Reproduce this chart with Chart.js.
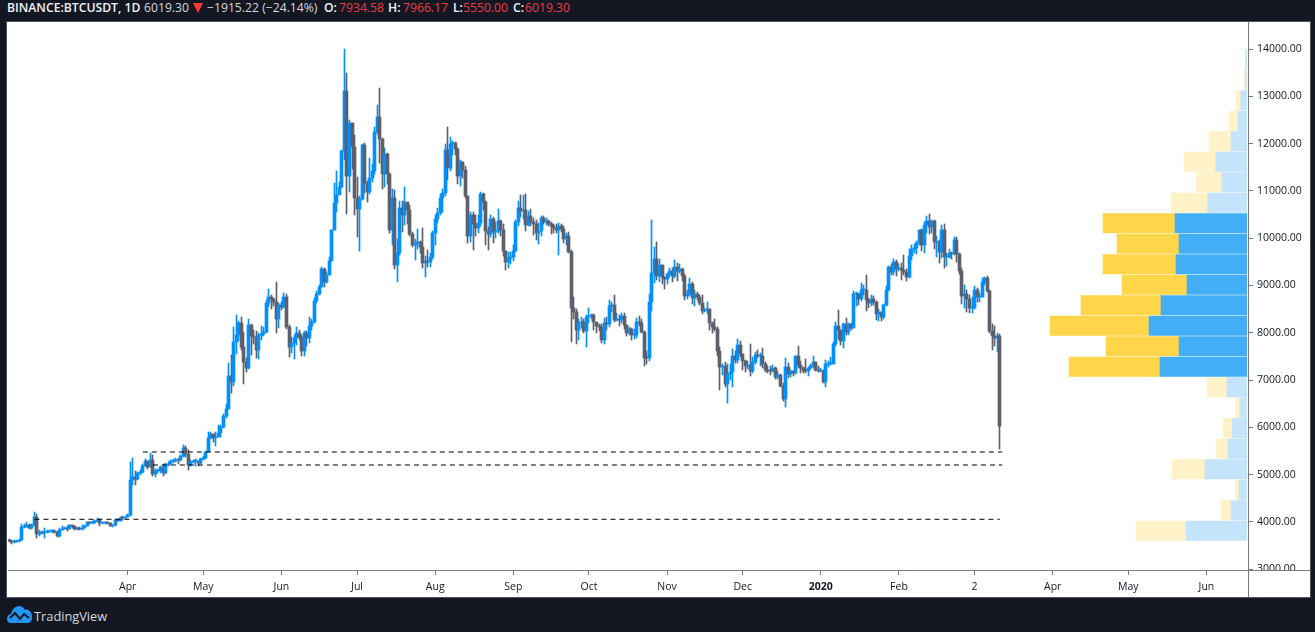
<!DOCTYPE html>
<html>
<head>
<meta charset="utf-8">
<script src="https://cdn.jsdelivr.net/npm/chart.js@4"></script>
<style>
  html, body { margin: 0; padding: 0; background: #131722; overflow: hidden; }
  body { width: 1315px; height: 632px; position: relative; font-family: "Open Sans", sans-serif; }
  #Chart { position: absolute; left: 7px; top: 22px; background: #fff; box-shadow: 0 0 0 1px #50535e; }
  #Profile { position: absolute; left: 1040px; top: 22px; }
  .hd { position: absolute; top: 0; font-size: 12.2px; line-height: 16px; color: #d6d8df; white-space: nowrap; }
  .hd.b { font-weight: 600; color: #f0f3fa; }
  .hd.r { color: #ee3a43; }
  #tri { position: absolute; left: 193px; top: 3px; border-left: 5px solid transparent; border-right: 5px solid transparent; border-top: 10px solid #ff3b30; }
  #logoText { position: absolute; left: 34px; top: 607px; font-size: 12.8px; line-height: 18px; color: #d6d8df; }
  #logo { position: absolute; left: 6px; top: 604px; }
</style>
</head>
<body>
<span class="hd b" style="left:7px">BINANCE:BTCUSDT, 1D</span>
<span class="hd" style="left:144px">6019.30</span>
<div id="tri"></div>
<span class="hd" style="left:207px">−1915.22 (−24.14%)</span>
<span class="hd b" style="left:324px">O:</span><span class="hd r" style="left:339px">7934.58</span>
<span class="hd b" style="left:388px">H:</span><span class="hd r" style="left:403px">7966.17</span>
<span class="hd b" style="left:453px">L:</span><span class="hd r" style="left:463px">5550.00</span>
<span class="hd b" style="left:513px">C:</span><span class="hd r" style="left:525px">6019.30</span>

<canvas id="Chart" width="1303" height="575"></canvas>
<canvas id="Profile" width="207" height="548"></canvas>

<svg id="logo" width="27" height="20" viewBox="0 0 27 20">
  <path d="M1 15c0-3 2-5 4-5 1-4 4-8 8-8 3 0 5 2 6 4 1-1 2-1 3 0 3 1 4 4 4 7 0 4-2 6-5 6H5c-3 0-4-2-4-4z" fill="#2196f3"/>
  <path d="M4 14l5-5 5 6 4-5 5 4" fill="none" stroke="#131722" stroke-width="2"/>
</svg>
<span id="logoText">TradingView</span>

<script>
// daily candles, 13 Feb 2019 - 12 Mar 2020
const opens = [
  3610,3590,3570,3575,3590,3620,3890,3900,3940,3880,3940,4115,3740,3790,3770,3780,
  3790,3810,3810,3790,3700,3840,3860,3870,3860,3930,3910,3860,3875,3860,3870,3915,4000,3975,3985,4020,4040,3985,3985,3990,3970,3925,3935,4040,4025,4090,4085,
  4105,4140,4880,4960,4900,5040,5050,5190,5290,5170,5320,5020,5070,5080,5170,5030,5215,5235,5285,5285,5320,5310,5395,5560,5430,5210,5270,5285,5285,5250,
  5330,5350,5470,5770,5860,5770,5805,5875,6015,6242,6383,7087,6968,7799,7954,8200,7707,7377,7263,8165,7933,7918,7637,7954,7975,8025,8623,8764,8725,8660,8285,
  8588,8552,8750,8116,7707,7790,7884,8003,7918,7616,8003,7884,8150,8230,8680,8814,8976,9350,9080,9230,9518,10174,10750,10914,11076,11844,13112,11315,12429,11921,
  10857,10618,10832,11971,11160,10984,11266,11414,12253,12556,12105,11350,11780,11358,10174,10843,9434,9680,10632,10491,10766,10597,10089,9857,9892,9920,9822,9483,9525,9505,9596,
  10104,10400,10540,10843,10949,11865,11492,11985,12006,11887,11322,11604,11442,10900,10054,10491,10300,10223,10330,10935,10773,10160,10089,10406,10138,10150,10370,10170,9736,9504,9580,
  9600,9729,10350,10632,10580,10596,10279,10460,10350,10300,10100,10160,10434,10350,10355,10300,10260,10225,10180,10258,10200,9983,10047,9715,8517,8447,8060,8200,8225,8045,
  8327,8355,8376,8235,8144,8130,7848,8200,8180,8567,8590,8270,8300,8280,8350,8160,7990,8070,7950,7950,8230,8210,8020,7470,7460,8660,9260,9550,9210,9430,9170,
  9140,9240,9310,9200,9390,9310,9340,9210,8770,8810,9030,8730,8810,8760,8640,8460,8490,8500,8200,8120,8080,7620,7280,7300,6920,7130,7165,7510,7420,7750,
  7550,7400,7290,7310,7190,7390,7530,7500,7520,7340,7220,7200,7190,7250,7070,7110,6880,6610,7280,7130,7190,7140,7510,7310,7250,7200,7190,7250,7300,7380,7220,
  7195,7200,6970,7340,7350,7350,7760,8150,8050,7820,8190,8020,8180,8110,8820,8820,8720,8900,8900,8700,8630,8720,8660,8390,8430,8330,8590,8900,9390,9290,9500,
  9350,9380,9330,9290,9180,9620,9770,9800,9905,10170,9860,10270,10360,10240,10370,9910,9930,9700,10180,9610,9610,9690,9660,9960,9660,9310,8780,8810,8710,
  8530,8530,8910,8760,8760,9070,9150,8890,8040,7930,7890,7934.58
];
const closes = [
  3590,3570,3575,3590,3620,3890,3900,3940,3880,3940,4115,3740,3790,3770,3780,3790,
  3810,3810,3790,3700,3840,3860,3870,3860,3930,3910,3860,3875,3860,3870,3915,4000,3975,3985,4020,4040,3985,3985,3990,3970,3925,3935,4040,4025,4090,4085,4105,
  4140,4880,4960,4900,5040,5050,5190,5290,5170,5320,5020,5070,5080,5170,5030,5215,5235,5285,5285,5320,5310,5395,5560,5430,5210,5270,5285,5285,5250,5330,
  5350,5470,5770,5860,5770,5805,5875,6015,6242,6383,7087,6968,7799,7954,8200,7707,7377,7263,8165,7933,7918,7637,7954,7975,8025,8623,8764,8725,8660,8285,8588,
  8552,8750,8116,7707,7790,7884,8003,7918,7616,8003,7884,8150,8230,8680,8814,8976,9350,9080,9230,9518,10174,10750,10914,11076,11844,13112,11315,12429,11921,10857,
  10618,10832,11971,11160,10984,11266,11414,12253,12556,12105,11350,11780,11358,10174,10843,9434,9680,10632,10491,10766,10597,10089,9857,9892,9920,9822,9483,9525,9505,9596,10104,
  10400,10540,10843,10949,11865,11492,11985,12006,11887,11322,11604,11442,10900,10054,10491,10300,10223,10330,10935,10773,10160,10089,10406,10138,10150,10370,10170,9736,9504,9580,9600,
  9729,10350,10632,10580,10596,10279,10460,10350,10300,10100,10160,10434,10350,10355,10300,10260,10225,10180,10258,10200,9983,10047,9715,8517,8447,8060,8200,8225,8045,8327,
  8355,8376,8235,8144,8130,7848,8200,8180,8567,8590,8270,8300,8280,8350,8160,7990,8070,7950,7950,8230,8210,8020,7470,7460,8660,9260,9550,9210,9430,9170,9140,
  9240,9310,9200,9390,9310,9340,9210,8770,8810,9030,8730,8810,8760,8640,8460,8490,8500,8200,8120,8080,7620,7280,7300,6920,7130,7165,7510,7420,7750,7550,
  7400,7290,7310,7190,7390,7530,7500,7520,7340,7220,7200,7190,7250,7070,7110,6880,6610,7280,7130,7190,7140,7510,7310,7250,7200,7190,7250,7300,7380,7220,7195,
  7200,6970,7340,7350,7350,7760,8150,8050,7820,8190,8020,8180,8110,8820,8820,8720,8900,8900,8700,8630,8720,8660,8390,8430,8330,8590,8900,9390,9290,9500,9350,
  9380,9330,9290,9180,9620,9770,9800,9905,10170,9860,10270,10360,10240,10370,9910,9930,9700,10180,9610,9610,9690,9660,9960,9660,9310,8780,8810,8710,8530,
  8530,8910,8760,8760,9070,9150,8890,8040,7930,7890,7934.58,6019.30
];
const highs = [
  3630,3620,3610,3610,3640,3950,3960,3995,3960,3950,4215,4170,3830,3810,3880,3830,
  3840,3835,3830,3800,3875,3910,3885,3910,3945,3925,3920,3890,3885,3930,3930,4010,4005,4020,4040,4090,4060,3995,4010,4000,3975,3945,4060,4055,4095,4130,4110,
  4170,5275,5345,5075,5060,5100,5220,5340,5300,5450,5420,5130,5120,5190,5235,5240,5270,5310,5330,5350,5340,5420,5620,5600,5530,5310,5310,5330,5290,5345,
  5400,5500,5910,5900,5860,5900,6050,6060,6290,6495,7355,7531,8115,8377,8260,8342,8025,7460,8285,8180,8060,8038,7990,8144,8130,8700,8920,8790,8730,9083,8620,
  8659,8835,8814,8170,7905,7950,8116,8060,7960,8030,8030,8327,8290,8730,8880,9020,9400,9363,9290,9596,10180,11174,11428,11190,11860,14000,13486,12500,12440,12190,
  11294,10900,12000,12010,11200,11689,11560,12360,12816,13169,12120,11900,11810,11375,11034,11010,9977,10794,10790,11076,10750,10702,10130,9990,10188,9950,10209,9615,9750,9680,10150,
  10500,10640,10940,11050,11990,12344,12130,12050,12030,11900,11660,11620,11530,10900,10550,10560,10490,10500,10970,10950,10780,10230,10480,10440,10350,10617,10390,10300,9730,9700,9700,
  9855,10380,10787,10913,10913,10935,10575,10610,10430,10380,10330,10470,10470,10420,10390,10340,10290,10290,10330,10300,10250,10115,10130,9750,8764,8500,8300,8340,8300,8370,
  8520,8400,8395,8190,8180,8180,8306,8340,8694,8650,8800,8426,8370,8426,8420,8170,8120,8110,8090,8320,8355,8300,8045,7625,8820,10385,9820,9913,9560,9440,9190,
  9270,9370,9380,9540,9480,9460,9370,9250,8900,9152,9070,8900,8860,8790,8800,8530,8658,8510,8220,8285,8120,7700,7350,7380,7340,7340,7650,7620,7860,7820,
  7550,7430,7400,7763,7480,7590,7630,7580,7672,7380,7300,7290,7310,7270,7200,7130,6940,7460,7370,7210,7190,7520,7720,7400,7270,7450,7270,7340,7520,7380,7300,
  7250,7210,7425,7400,7496,7800,8236,8480,8050,8200,8310,8200,8200,8890,8870,8850,9046,9000,9222,8740,8790,8780,8670,8500,8450,8600,8980,9420,9450,9560,9530,
  9460,9480,9645,9350,9770,9860,9880,9950,10180,10190,10336,10470,10512,10390,10380,10050,9970,10280,10290,9690,9780,9700,10020,10030,9680,9370,9011,8900,8800,
  8750,8980,8950,8840,9160,9190,9210,8900,8190,8140,7990,7966.17
];
const lows = [
  3570,3540,3560,3575,3575,3610,3870,3885,3860,3860,3925,3660,3710,3745,3670,3760,
  3790,3770,3765,3680,3680,3830,3850,3810,3855,3875,3835,3840,3835,3830,3865,3915,3950,3955,3970,4005,3905,3960,3960,3950,3910,3900,3925,4015,4015,4045,4090,
  4110,4130,4780,4780,4890,5000,5040,5180,5130,5170,4970,4950,5030,5040,4980,5020,5190,5230,5240,5260,5220,5280,5380,5380,5100,5180,5240,5190,5180,5230,
  5320,5340,5523,5750,5690,5607,5800,5790,5990,6190,6390,6720,6880,7560,7830,7640,6918,7170,7230,7531,7760,7460,7450,7840,7925,7990,8550,8504,8560,8003,8109,
  8480,8530,8090,7496,7570,7446,7740,7840,7500,7510,7730,7790,8050,8215,8620,8790,8960,8962,9050,9220,9520,10170,10560,10960,11060,11660,10512,10984,11456,10480,
  10033,9737,10800,10950,10770,10930,11190,11350,12200,11583,11050,11090,11150,10100,9857,9340,9082,9650,10139,10270,10290,10050,9810,9540,9780,9680,9363,9187,9400,9400,9560,
  9857,10330,10500,10560,10900,11230,11420,11750,11760,11150,11104,11270,10850,9900,9927,9751,10040,10100,10260,10600,9856,9751,10020,9905,10000,10110,10040,9630,9328,9360,9450,
  9520,9700,10260,10450,10400,10160,10250,10260,10060,9970,9880,10040,10300,10280,10250,10090,10120,10120,9645,10130,9900,9860,9690,7813,8300,7757,7850,8100,7990,7707,
  8200,8300,8065,8000,8030,7780,7770,8050,8120,8450,8220,8240,8150,8200,8090,7940,7950,7840,7870,7880,8150,8000,7298,7350,7400,8470,9050,9120,9070,9030,8930,
  9040,9180,9070,9150,9100,9260,9100,8694,8720,8780,8600,8574,8700,8580,8400,8430,8400,8060,8000,8030,7500,6791,7100,6850,6523,7000,6847,7360,7370,7480,
  7220,7170,7240,7080,7150,7330,7470,7300,7250,7170,7150,7108,7180,7030,7020,6860,6560,6440,7040,7070,7080,7130,7260,7160,7140,7150,7094,7230,7260,7190,7170,
  7170,6930,6860,7270,7310,7340,7730,7870,7750,7680,7960,7960,8060,8100,8570,8590,8670,8800,8470,8520,8560,8580,8280,8240,8260,8290,8560,8880,9220,9220,9210,
  9300,9120,9220,9090,9160,9530,9680,9660,9860,9730,9695,10103,10080,10120,9770,9600,9469,9580,9363,9420,9580,9570,9640,9490,9240,8610,8518,8440,8410,
  8410,8500,8650,8660,8750,9010,8860,8000,7640,7730,7590,5550
];

// month ticks, positions are day numbers counted from the first candle
const tickDays = [47,77,108,138,169,200,230,261,291,322,353,383,414,444,475];
const tickLabels = ['Apr','May','Jun','Jul','Aug','Sep','Oct','Nov','Dec','2020','Feb','2','Apr','May','Jun'];
const dayCount = 492;
const priceTicks = [3000,4000,5000,6000,7000,8000,9000,10000,11000,12000,13000,14000];

// dashed support lines
const lineLevels = [5480,5205,4057];
const lineStartDays = [53,57,10];
const lineEndDays = [394,394,393];

// volume profile, in the picture's own units
const binPrices = [13783,13350,12916,12483,12050,11616,11183,10749,10316,9883,9449,9016,8582,8149,7716,7282,6849,6416,5982,5549,5115,4682,4248,3815];
const upVolume = [1,1.3,6.3,9,16,31.3,25,39.3,72,68,71,60,86,98,68,87,20,7,15,19,42,8,16,61];
const downVolume = [1,2,5,9,22,31.7,26,36.7,72,62,73,65,80,99,73,91,20,4.3,9,12,33,3.3,10,50];
const valueAreaFirst = 8;
const valueAreaLast = 15;

const priceMin = 2985;
const priceMax = 14571;
const upColor = '#0090ff';
const downColor = '#5d606b';
const axisColor = '#787b86';

document.addEventListener('DOMContentLoaded', function () {
  const labels = Array.from({ length: dayCount }, (_, i) => String(i));

  function candleColor(ctx) {
    return closes[ctx.dataIndex] >= opens[ctx.dataIndex] ? upColor : downColor;
  }

  // keeps the thin bars on whole pixels so they stay sharp
  const snapBars = {
    id: 'snapBars',
    afterDatasetsUpdate(chart) {
      chart.data.datasets.forEach((ds, i) => {
        const meta = chart.getDatasetMeta(i);
        if (meta.type !== 'bar') return;
        meta.data.forEach(el => {
          el.x = Math.floor(el.x) + 0.5;
          el.y = Math.round(el.y);
          el.base = Math.round(el.base);
        });
      });
    }
  };

  // clean corner below the price axis, like the original cuts off 3000.00
  const corner = {
    id: 'corner',
    afterDraw(chart) {
      const c = chart.ctx, a = chart.chartArea;
      c.save();
      c.fillStyle = '#fff';
      c.fillRect(a.right + 1, a.bottom + 1, chart.width - a.right, chart.height - a.bottom);
      c.strokeStyle = axisColor;
      c.lineWidth = 1;
      c.beginPath();
      c.moveTo(a.right, a.bottom + 0.5);
      c.lineTo(chart.width, a.bottom + 0.5);
      c.moveTo(a.right + 0.5, a.bottom);
      c.lineTo(a.right + 0.5, chart.height);
      c.stroke();
      c.restore();
    }
  };

  const lineSets = lineLevels.map((level, i) => ({
    type: 'line',
    data: [{ x: String(lineStartDays[i]), y: level }, { x: String(lineEndDays[i]), y: level }],
    borderColor: '#000',
    borderWidth: 1,
    borderDash: [5, 4],
    pointRadius: 0,
    order: 0
  }));

  new Chart(document.getElementById('Chart'), {
    type: 'bar',
    data: {
      labels: labels,
      datasets: [{
        data: highs.map((h, i) => [lows[i], h]),
        backgroundColor: candleColor,
        barThickness: 1,
        grouped: false,
        order: 2
      }, {
        data: closes.map((c, i) => [opens[i], c]),
        backgroundColor: candleColor,
        barThickness: 3,
        minBarLength: 1,
        grouped: false,
        order: 1
      }, ...lineSets]
    },
    options: {
      responsive: false,
      animation: false,
      events: [],
      layout: { padding: { left: 1 } },
      plugins: { legend: { display: false }, tooltip: { enabled: false } },
      scales: {
        x: {
          offset: true,
          grid: { offset: false, drawOnChartArea: false, tickLength: 5, tickColor: axisColor },
          border: { color: axisColor },
          afterBuildTicks: scale => { scale.ticks = tickDays.map(d => ({ value: d })); },
          afterFit: scale => { scale.height = 27; scale.paddingLeft = 0; scale.paddingRight = 0; },
          ticks: {
            autoSkip: false,
            maxRotation: 0,
            padding: 6,
            color: '#131722',
            font: ctx => ({ family: 'Open Sans', size: 10.5, weight: tickLabels[ctx.index] === '2020' ? 'bold' : 'normal' }),
            callback: (value, index) => tickLabels[index]
          }
        },
        y: {
          position: 'right',
          min: priceMin,
          max: priceMax,
          grid: { drawOnChartArea: false, tickLength: 5, tickColor: axisColor },
          border: { color: axisColor },
          afterBuildTicks: scale => { scale.ticks = priceTicks.map(p => ({ value: p })); },
          afterFit: scale => { scale.width = 62; scale.paddingTop = 0; scale.paddingBottom = 0; },
          ticks: {
            padding: 4,
            autoSkip: false,
            color: '#131722',
            font: { family: 'Open Sans', size: 10.5 },
            callback: v => v.toFixed(2)
          }
        }
      }
    },
    plugins: [snapBars, corner]
  });

  function binColor(strong, light) {
    return ctx => (ctx.dataIndex >= valueAreaFirst && ctx.dataIndex <= valueAreaLast) ? strong : light;
  }

  new Chart(document.getElementById('Profile'), {
    type: 'bar',
    data: {
      datasets: [{
        data: binPrices.map((p, i) => ({ x: [0, upVolume[i]], y: p })),
        backgroundColor: binColor('#42aef5', '#c4e4fb'),
        barThickness: 19.5,
        grouped: false
      }, {
        data: binPrices.map((p, i) => ({ x: [upVolume[i], upVolume[i] + downVolume[i]], y: p })),
        backgroundColor: binColor('#ffd54a', '#fff2c8'),
        barThickness: 19.5,
        grouped: false
      }]
    },
    options: {
      indexAxis: 'y',
      responsive: false,
      animation: false,
      events: [],
      plugins: { legend: { display: false }, tooltip: { enabled: false } },
      scales: {
        x: { type: 'linear', display: false, reverse: true, min: 0, max: 207 },
        y: { type: 'linear', display: false, offset: false, min: priceMin, max: priceMax }
      }
    }
  });
});
</script>
</body>
</html>
